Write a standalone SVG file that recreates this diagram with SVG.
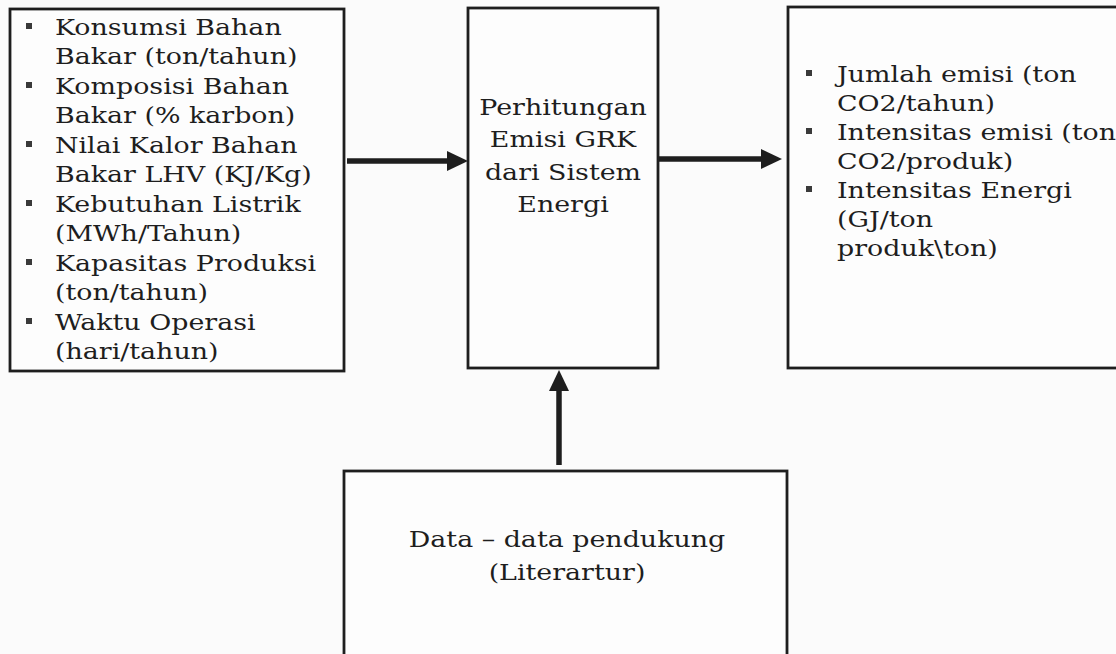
<svg xmlns="http://www.w3.org/2000/svg" width="1116" height="654" viewBox="0 0 1116 654">
<style>
.box{fill:#fdfdfd;stroke:#1e1e1e;stroke-width:2.8}
.t{font-family:"DejaVu Serif","Liberation Serif",serif;font-size:21.5px;fill:#1e1e1e}
.c{text-anchor:middle}
.b{fill:#3a3a3a}
.con{stroke:#1e1e1e;stroke-width:5.5;fill:none}
.head{fill:#1e1e1e}
</style>
<rect width="1116" height="654" fill="#fbfbfb"/>
<g id="inputs">
<rect class="box" x="10" y="9" width="334" height="362"/>
<g class="t" transform="translate(55,0) scale(1.25,1)">
<text x="0" y="35">Konsumsi Bahan</text>
<text x="0" y="64.5">Bakar (ton/tahun)</text>
<text x="0" y="94">Komposisi Bahan</text>
<text x="0" y="123.5">Bakar (% karbon)</text>
<text x="0" y="153">Nilai Kalor Bahan</text>
<text x="0" y="182.5">Bakar LHV (KJ/Kg)</text>
<text x="0" y="212">Kebutuhan Listrik</text>
<text x="0" y="241.5">(MWh/Tahun)</text>
<text x="0" y="271">Kapasitas Produksi</text>
<text x="0" y="300.5">(ton/tahun)</text>
<text x="0" y="330">Waktu Operasi</text>
<text x="0" y="359.5">(hari/tahun)</text>
</g>
<rect class="b" x="26" y="23" width="6" height="6"/>
<rect class="b" x="26" y="82" width="6" height="6"/>
<rect class="b" x="26" y="141" width="6" height="6"/>
<rect class="b" x="26" y="200" width="6" height="6"/>
<rect class="b" x="26" y="259" width="6" height="6"/>
<rect class="b" x="26" y="318" width="6" height="6"/>
</g>
<g id="process">
<rect class="box" x="468" y="8" width="190" height="360"/>
<g class="t c" transform="translate(563,0) scale(1.25,1)">
<text x="0" y="115">Perhitungan</text>
<text x="0" y="147.5">Emisi GRK</text>
<text x="0" y="180">dari Sistem</text>
<text x="0" y="212">Energi</text>
</g>
</g>
<g id="outputs">
<rect class="box" x="788" y="7" width="340" height="361"/>
<g class="t" transform="translate(837,0) scale(1.25,1)">
<text x="0" y="82">Jumlah emisi (ton</text>
<text x="0" y="111">CO2/tahun)</text>
<text x="0" y="140">Intensitas emisi (ton</text>
<text x="0" y="169">CO2/produk)</text>
<text x="0" y="198">Intensitas Energi</text>
<text x="0" y="227">(GJ/ton</text>
<text x="0" y="256">produk\ton)</text>
</g>
<rect class="b" x="806" y="70" width="6" height="6"/>
<rect class="b" x="806" y="128" width="6" height="6"/>
<rect class="b" x="806" y="186" width="6" height="6"/>
</g>
<g id="support">
<rect class="box" x="344" y="471" width="443" height="200"/>
<g class="t c" transform="translate(567,0) scale(1.25,1)">
<text x="0" y="547">Data – data pendukung</text>
<text x="0" y="580">(Literartur)</text>
</g>
</g>
<g id="connectors">
<line class="con" x1="347" y1="161" x2="450" y2="161"/>
<polygon class="head" points="447,151 468,161 447,171"/>
<line class="con" x1="658" y1="159" x2="764" y2="159"/>
<polygon class="head" points="761,149 782,159 761,169"/>
<line class="con" x1="559" y1="465" x2="559" y2="388"/>
<polygon class="head" points="549,391 559,370 569,391"/>
</g>
</svg>
